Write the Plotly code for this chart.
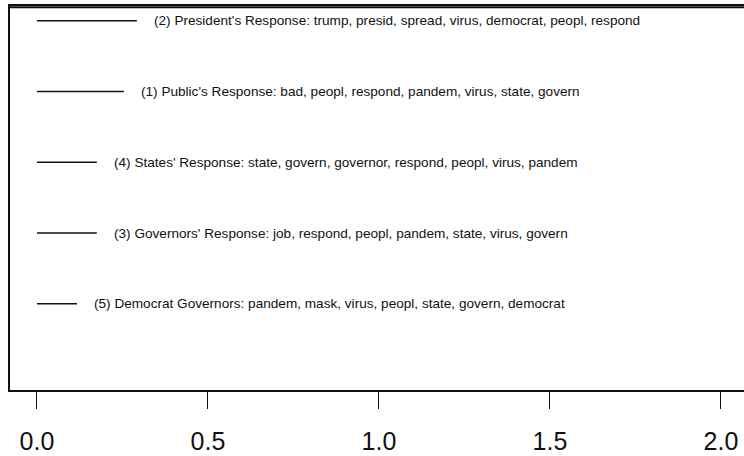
import plotly.graph_objects as go

labels = [
    "(2) President's Response: trump, presid, spread, virus, democrat, peopl, respond",
    "(1) Public's Response: bad, peopl, respond, pandem, virus, state, govern",
    "(4) States' Response: state, govern, governor, respond, peopl, virus, pandem",
    "(3) Governors' Response: job, respond, peopl, pandem, state, virus, govern",
    "(5) Democrat Governors: pandem, mask, virus, peopl, state, govern, democrat",
]
values = [0.292, 0.254, 0.175, 0.175, 0.117]
rows = [0, 1, 2, 3, 4]
tick_vals = [0.0, 0.5, 1.0, 1.5, 2.0]
tick_text = ["0.0", "0.5", "1.0", "1.5", "2.0"]

fig = go.Figure()
for v, r, lab in zip(values, rows, labels):
    fig.add_trace(go.Scatter(x=[0, v], y=[r, r], mode="lines",
                             line=dict(color="#111111", width=1.5),
                             showlegend=False, hoverinfo="skip"))
    fig.add_annotation(x=v, y=r, text=lab, showarrow=False, xanchor="left",
                       yanchor="middle", xshift=15,
                       font=dict(family="Liberation Sans, Arial", size=13.6, color="#111111"))

fig.add_shape(type="line", xref="paper", yref="paper", x0=0, x1=1, y0=0.997, y1=0.997,
              layer="above", line=dict(color="#111111", width=2))

fig.update_layout(
    width=744, height=456,
    margin=dict(l=10, r=0, t=6, b=66, autoexpand=False),
    plot_bgcolor="white", paper_bgcolor="white",
    xaxis=dict(range=[-0.0789, 2.0673], tickvals=tick_vals, ticktext=tick_text,
               ticks="outside", ticklen=17, tickwidth=1.3, tickcolor="#111111",
               showline=True, mirror=True, linecolor="#111111", linewidth=1.5,
               showgrid=False, zeroline=False,
               tickfont=dict(family="Liberation Sans, Arial", size=25, color="#111111"),
               ticklabelstandoff=11),
    yaxis=dict(range=[5.22, -0.21], showticklabels=False, ticks="",
               showline=True, linecolor="#111111", linewidth=1.5,
               showgrid=False, zeroline=False),
)
css = ("var s=document.createElement('style');"
       "s.textContent='html,body{margin:0;padding:0;overflow:hidden;}';"
       "document.head.appendChild(s);window.scrollTo(0,0);")
fig.write_html("out.html", config={"displayModeBar": False}, post_script=css)
